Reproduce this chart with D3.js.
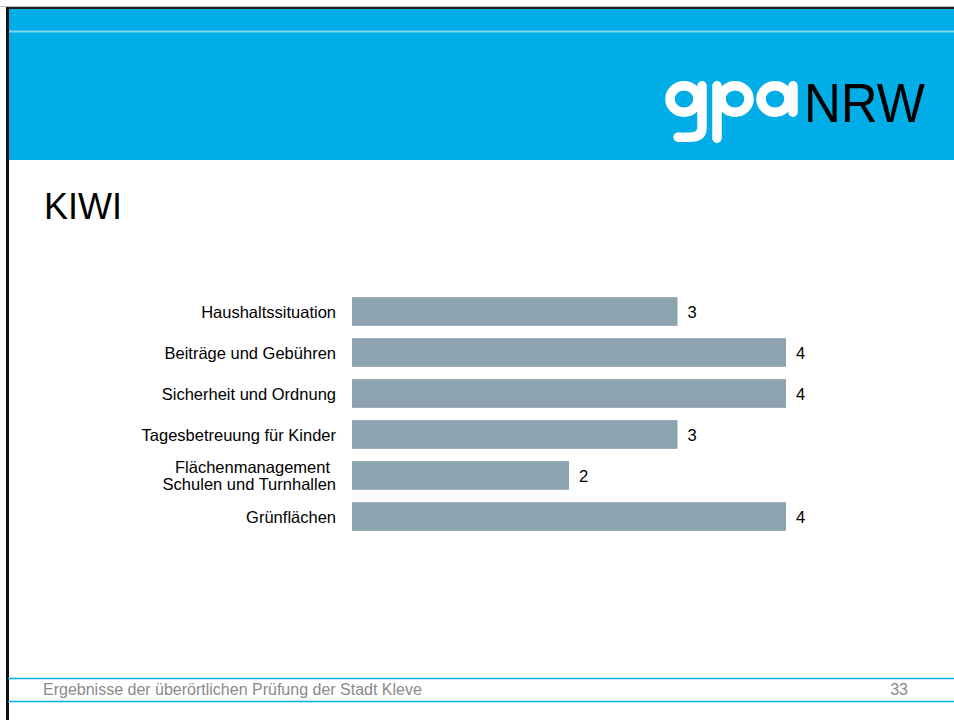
<!DOCTYPE html>
<html><head><meta charset="utf-8">
<script src="https://cdn.jsdelivr.net/npm/d3@7"></script>
<style>html,body{margin:0;padding:0;background:#fff;overflow:hidden}</style>
</head><body>
<script>
const categories = ["Haushaltssituation","Beiträge und Gebühren","Sicherheit und Ordnung","Tagesbetreuung für Kinder","Flächenmanagement\nSchulen und Turnhallen","Grünflächen"];
const values = [3,4,4,3,2,4];
const title = "KIWI";
const footerText = "Ergebnisse der überörtlichen Prüfung der Stadt Kleve";
const pageNumber = "33";

(function(){
const W=954,H=720;
const svg=d3.select("body").append("svg").attr("width",W).attr("height",H).style("font-family","Arial, 'Liberation Sans', sans-serif");
svg.append("rect").attr("width",W).attr("height",H).attr("fill","#fff");
// header
svg.append("rect").attr("x",8).attr("y",8).attr("width",W).attr("height",152).attr("fill","#00ADE6");
svg.append("line").attr("x1",8).attr("x2",W).attr("y1",31.5).attr("y2",31.5).attr("stroke","#7FD6F5").attr("stroke-width",2);
// frame
svg.append("line").attr("x1",0).attr("x2",W).attr("y1",6.5).attr("y2",6.5).attr("stroke","#bbb").attr("stroke-width",1);
svg.append("line").attr("x1",7).attr("x2",W).attr("y1",8).attr("y2",8).attr("stroke","#222").attr("stroke-width",2);
svg.append("line").attr("x1",7.5).attr("x2",7.5).attr("y1",7).attr("y2",H).attr("stroke","#111").attr("stroke-width",3);
// logo: rounded "gpa"
const logo=svg.append("g").attr("fill","none").attr("stroke","#fff").attr("stroke-width",9.5).attr("stroke-linecap","round");
const sw=4.75, xTop=81, xBase=117, rx=14, ry=(xBase-xTop-2*sw)/2, cyL=(xTop+xBase)/2;
// g
logo.append("ellipse").attr("cx",684).attr("cy",cyL).attr("rx",rx).attr("ry",ry);
logo.append("path").attr("d",`M702,${xTop+sw} V128 Q702,${142-sw} 689,${142-sw} L678,${142-sw}`);
// p
logo.append("ellipse").attr("cx",735).attr("cy",cyL).attr("rx",rx).attr("ry",ry);
logo.append("path").attr("d",`M717,${xTop+sw} V${143-sw}`);
// a
logo.append("ellipse").attr("cx",775).attr("cy",cyL).attr("rx",rx).attr("ry",ry);
logo.append("path").attr("d",`M793,${xTop+sw} V${xBase-sw}`);
svg.append("text").attr("x",804).attr("y",122).attr("fill","#000").attr("font-size",55).attr("textLength",121).attr("lengthAdjust","spacingAndGlyphs").text("NRW");
// title
svg.append("text").attr("x",44).attr("y",219).attr("font-size",36).attr("fill","#000").text(title);

// chart
const x=d3.scaleLinear().domain([0,4]).range([352,786]);
const y=d3.scaleBand().domain(categories).range([291,537]).paddingInner(0.3).paddingOuter(0.15);
const g=svg.append("g");
g.selectAll("rect.bar").data(values).join("rect").attr("class","bar")
 .attr("x",x(0)).attr("y",(d,i)=>y(categories[i])).attr("width",d=>x(d)-x(0)).attr("height",y.bandwidth()).attr("fill","#8DA3B0");
g.selectAll("text.val").data(values).join("text").attr("class","val")
 .attr("x",d=>x(d)+10).attr("y",(d,i)=>y(categories[i])+y.bandwidth()/2+6).attr("font-size",16.5).attr("fill","#000").text(d=>d);
const labs=g.selectAll("text.cat").data(categories).join("text").attr("class","cat")
 .attr("text-anchor","end").attr("font-size",16.5).attr("fill","#000");
labs.each(function(c){
  const lines=c.split("\n");
  const t=d3.select(this);
  const cy=y(c)+y.bandwidth()/2;
  lines.forEach((l,k)=>{
    t.append("tspan").attr("x",lines.length>1&&k===0?330:336).attr("y",cy+6+(k-(lines.length-1)/2)*17).text(l);
  });
});

// footer
svg.append("line").attr("x1",8).attr("x2",W).attr("y1",678.5).attr("y2",678.5).attr("stroke","#00ADE6").attr("stroke-width",1.5);
svg.append("line").attr("x1",8).attr("x2",W).attr("y1",701.5).attr("y2",701.5).attr("stroke","#00ADE6").attr("stroke-width",1.5);
svg.append("text").attr("x",43).attr("y",695).attr("font-size",16).attr("fill","#8a8a8a").text(footerText);
svg.append("text").attr("x",908).attr("y",695).attr("text-anchor","end").attr("font-size",16).attr("fill","#8a8a8a").text(pageNumber);
})();
</script>
</body></html>
